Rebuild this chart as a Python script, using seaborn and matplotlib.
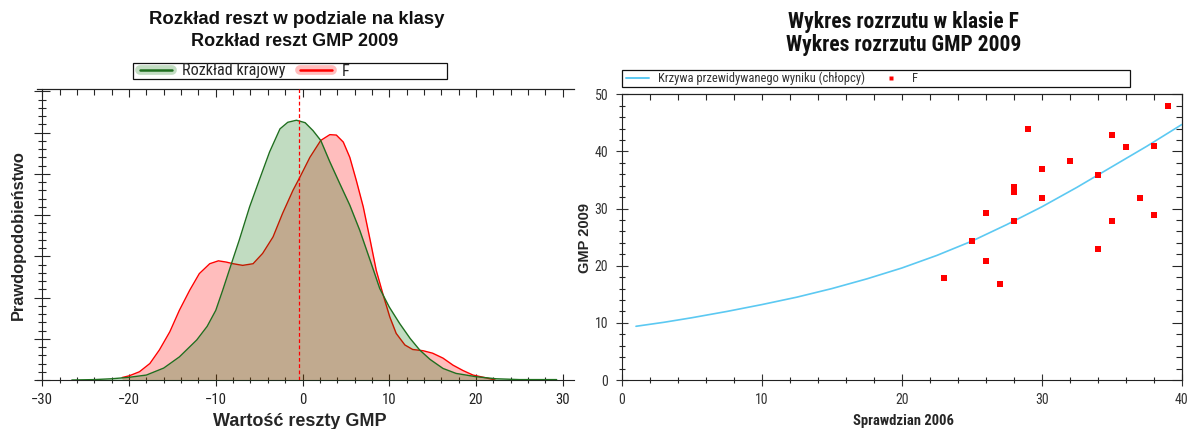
import matplotlib
matplotlib.use("Agg")
import matplotlib.pyplot as plt
import seaborn as sns
import numpy as np
import pandas as pd
from matplotlib.lines import Line2D
from matplotlib.patches import Rectangle
from matplotlib.ticker import MultipleLocator, NullFormatter
import matplotlib.patheffects as pe
from matplotlib import font_manager as fm

# ---------------- data ----------------
# national residual distribution ("Rozkład krajowy")
nat_x = [-26.6, -24.0, -22.0, -20.0, -18.0, -16.0, -14.2, -12.2, -11.0, -10.0,
         -9.2, -8.2, -7.3, -6.1, -5.0, -3.8, -2.6, -1.7, -0.7, 0.3,
         1.2, 2.1, 3.15, 4.3, 5.45, 6.6, 7.8, 8.9, 10.0, 11.2,
         12.4, 13.5, 14.7, 16.2, 17.7, 20.0, 22.3, 25.0, 29.3]
nat_d = [0.0, 0.0001, 0.0003, 0.00065, 0.0012, 0.0029, 0.0056, 0.0097, 0.013, 0.0169,
         0.0218, 0.0282, 0.0339, 0.042, 0.0484, 0.0553, 0.0609, 0.0625, 0.063, 0.0624,
         0.0605, 0.0581, 0.0529, 0.0476, 0.0424, 0.0363, 0.029, 0.0222, 0.0177, 0.0137,
         0.0101, 0.0073, 0.005, 0.0028, 0.0016, 0.0008, 0.0003, 0.0001, 0.0001]

# class F residual distribution
f_x = [-20.8, -20.0, -18.8, -17.6, -16.5, -15.3, -14.2, -13.0, -11.9, -10.7,
       -9.7, -8.8, -8.0, -6.9, -5.7, -4.6, -3.4, -2.3, -1.1, -0.3,
       0.85, 2.1, 3.15, 3.9, 4.7, 5.45, 6.2, 7.0, 7.8, 8.5,
       9.3, 10.06, 10.8, 11.8, 12.7, 13.9, 15.0, 16.2, 17.35, 18.5,
       19.65, 21.2, 22.2]
f_d = [0.0006, 0.001, 0.002, 0.004, 0.0073, 0.0117, 0.0169, 0.0218, 0.0258, 0.0282,
       0.0289, 0.0286, 0.0282, 0.0278, 0.0282, 0.0307, 0.0347, 0.0404, 0.046, 0.0492,
       0.054, 0.0581, 0.0595, 0.0594, 0.0577, 0.054, 0.0484, 0.042, 0.0339, 0.0266,
       0.0206, 0.0153, 0.0113, 0.0085, 0.0074, 0.0071, 0.0065, 0.0053, 0.0036, 0.0023,
       0.0012, 0.0005, 0.0]

mean_resid = -0.4

# predicted-score curve (boys)
curve_x = [1, 3, 5, 7.5, 10, 12.5, 15, 17.5, 20, 22.5, 25, 27.5, 30, 32.5, 35, 37.5, 40]
curve_y = [9.4, 10.1, 10.9, 12.0, 13.2, 14.5, 16.0, 17.7, 19.6, 21.8, 24.3, 27.2, 30.3,
           33.7, 37.3, 40.9, 44.7]

# class F students
spr_2006 = [23, 25, 26, 26, 27, 28, 28, 28, 29, 30, 30, 32, 34, 34, 35, 35, 36, 37, 38, 38, 39]
gmp_2009 = [17.8, 24.3, 29.3, 20.9, 16.8, 33.8, 32.9, 27.8, 43.9, 36.9, 31.9, 38.3, 35.9, 23.0,
            42.9, 27.9, 40.8, 31.9, 40.9, 28.8, 47.9]

# ---------------- fonts ----------------
names = {f.name for f in fm.fontManager.ttflist}
def pick(*cands):
    for c in cands:
        if c in names:
            return c
    return "DejaVu Sans"
SANS = pick("Liberation Sans", "Arial", "DejaVu Sans")
NARROW = pick("Liberation Sans Narrow", "DejaVu Sans Condensed", "Roboto Condensed",
              "Open Sans Condensed", "Liberation Sans")

sns.set_theme(style="ticks")
plt.rcParams["font.family"] = [NARROW, "DejaVu Sans"]
plt.rcParams["axes.linewidth"] = 0.8
plt.rcParams["axes.edgecolor"] = "#222222"

W, H = 1190, 429
fig = plt.figure(figsize=(W / 100, H / 100), dpi=100)

def fx(px):
    return px / W
def fy(py):
    return 1 - py / H

# ---------------- left panel ----------------
L_l, L_r, L_t, L_b = 36.7, 574.0, 89.3, 380.0
axL = fig.add_axes([fx(L_l), fy(L_b), (L_r - L_l) / W, (L_b - L_t) / H])

RED = "#ff0000"
GREEN_LINE = "#1f6f1f"
GREEN_FILL = "#006f00"

axL.fill_between(f_x, f_d, color=RED, alpha=0.26, lw=0, zorder=1)
sns.lineplot(x=f_x, y=f_d, ax=axL, color=RED, lw=1.0, zorder=2, legend=False)
axL.fill_between(nat_x, nat_d, color=GREEN_FILL, alpha=0.245, lw=0, zorder=3)
sns.lineplot(x=nat_x, y=nat_d, ax=axL, color=GREEN_LINE, lw=1.0, zorder=4, legend=False)
axL.axvline(mean_resid, color=RED, lw=0.9, ls=(0, (3, 2)), zorder=5)

axL.set_xlim(-30.65, 31.3)
axL.set_ylim(0, 0.0705)
axL.spines["right"].set_visible(False)
axL.spines["left"].set_position(("data", -30))
axL.xaxis.set_major_locator(MultipleLocator(10))
axL.xaxis.set_minor_locator(MultipleLocator(2))
axL.yaxis.set_major_locator(MultipleLocator(0.01))
axL.yaxis.set_minor_locator(MultipleLocator(0.002))
axL.yaxis.set_major_formatter(NullFormatter())
axL.tick_params(axis="x", which="major", direction="inout", length=8, width=0.8,
                bottom=True, top=False, labelsize=10.5, colors="#222222", pad=5)
axL.tick_params(axis="x", which="minor", direction="inout", length=5, width=0.8,
                bottom=True, top=False)
axL.tick_params(axis="y", which="major", direction="inout", length=11, width=0.8,
                left=True, right=False)
axL.tick_params(axis="y", which="minor", direction="inout", length=6, width=0.8,
                left=True, right=False)
secL = axL.secondary_xaxis("top")
secL.xaxis.set_major_locator(MultipleLocator(10))
secL.xaxis.set_minor_locator(MultipleLocator(2))
secL.xaxis.set_major_formatter(NullFormatter())
secL.tick_params(axis="x", which="major", direction="in", length=6, width=0.8)
secL.tick_params(axis="x", which="minor", direction="in", length=4, width=0.8)

axL.set_xlabel("Wartość reszty GMP", fontsize=13, fontweight="bold", family=[SANS, "DejaVu Sans"])
axL.xaxis.label.set_va("center")
axL.xaxis.set_label_coords((300 - L_l) / (L_r - L_l), -(421 - L_b) / (L_b - L_t))
axL.set_ylabel("Prawdopodobieństwo", fontsize=11.8, fontweight="bold", family=[SANS, "DejaVu Sans"])
axL.yaxis.label.set_va("center")
axL.yaxis.set_label_coords((18 - L_l) / (L_r - L_l), (L_b - 235) / (L_b - L_t))

fig.text(fx(297), fy(20), "Rozkład reszt w podziale na klasy", ha="center", va="center",
         fontsize=13.3, fontweight="bold", family=[SANS, "DejaVu Sans"], color="#111111")
fig.text(fx(295), fy(42), "Rozkład reszt GMP 2009", ha="center", va="center",
         fontsize=13.0, fontweight="bold", family=[SANS, "DejaVu Sans"], color="#111111")

hG = Line2D([], [], color=GREEN_LINE, lw=1.8,
            path_effects=[pe.Stroke(linewidth=7, foreground="#c3ddc3"), pe.Normal()])
hR = Line2D([], [], color=RED, lw=1.8,
            path_effects=[pe.Stroke(linewidth=7, foreground="#ffbdbd"), pe.Normal()])
fig.legend(handles=[hG, hR], labels=["Rozkład krajowy", "F"], loc="center left",
           bbox_to_anchor=(fx(140), fy(71)), ncol=2, frameon=False, fontsize=11.6,
           handlelength=2.0, handletextpad=0.6, columnspacing=0.9,
           borderpad=0, borderaxespad=0)
fig.add_artist(Rectangle((fx(133), fy(79)), (447 - 133) / W, 16 / H, transform=fig.transFigure,
                         fill=False, ec="#111111", lw=0.9))

# ---------------- right panel ----------------
R_l, R_r, R_t, R_b = 622.0, 1181.7, 94.3, 380.0
axR = fig.add_axes([fx(R_l), fy(R_b), (R_r - R_l) / W, (R_b - R_t) / H])
CYAN = "#5cc9f2"
sns.lineplot(x=curve_x, y=curve_y, ax=axR, color=CYAN, lw=1.2, zorder=2, legend=False)
sns.scatterplot(x=spr_2006, y=gmp_2009, ax=axR, marker="s", s=14, color=RED,
                linewidth=0, zorder=3, legend=False)
axR.set_xlim(0, 40)
axR.set_ylim(0, 50)
for ax_ in (axR.xaxis, axR.yaxis):
    ax_.set_major_locator(MultipleLocator(10))
    ax_.set_minor_locator(MultipleLocator(2))
axR.tick_params(axis="both", which="major", direction="inout", length=8, width=0.8,
                labelsize=10, colors="#333333", bottom=True, left=True, top=False, right=False)
axR.tick_params(axis="both", which="minor", direction="inout", length=5, width=0.8,
                bottom=True, left=True, top=False, right=False)
axR.tick_params(axis="x", pad=5)
axR.tick_params(axis="y", pad=6)
secRt = axR.secondary_xaxis("top")
secRt.xaxis.set_major_locator(MultipleLocator(10))
secRt.xaxis.set_minor_locator(MultipleLocator(2))
secRt.xaxis.set_major_formatter(NullFormatter())
secRt.tick_params(axis="x", which="both", direction="in", length=4, width=0.8)
secRr = axR.secondary_yaxis("right")
secRr.yaxis.set_major_locator(MultipleLocator(10))
secRr.yaxis.set_minor_locator(MultipleLocator(2))
secRr.yaxis.set_major_formatter(NullFormatter())
secRr.tick_params(axis="y", which="major", direction="in", length=7, width=0.8)
secRr.tick_params(axis="y", which="minor", direction="in", length=4, width=0.8)

axR.set_xlabel("Sprawdzian 2006", fontsize=10.5, fontweight="bold", family=[NARROW, "DejaVu Sans"])
axR.xaxis.label.set_va("center")
axR.xaxis.set_label_coords((903 - R_l) / (R_r - R_l), -(421 - R_b) / (R_b - R_t))
axR.set_ylabel("GMP 2009", fontsize=10.5, fontweight="bold", family=[SANS, "DejaVu Sans"])
axR.yaxis.label.set_va("center")
axR.yaxis.set_label_coords((585 - R_l) / (R_r - R_l), (R_b - 238) / (R_b - R_t))

fig.text(fx(903), fy(22), "Wykres rozrzutu w klasie F", ha="center", va="center",
         fontsize=15.5, fontweight="bold", family=[NARROW, "DejaVu Sans"], color="#111111")
fig.text(fx(904), fy(45), "Wykres rozrzutu GMP 2009", ha="center", va="center",
         fontsize=15.5, fontweight="bold", family=[NARROW, "DejaVu Sans"], color="#111111")

hC = Line2D([], [], color=CYAN, lw=1.4)
hF = Line2D([], [], ls="none", marker="s", ms=3.2, color=RED, mec="none")
fig.legend(handles=[hC, hF], labels=["Krzywa przewidywanego wyniku (chłopcy)", "F"],
           loc="center left", bbox_to_anchor=(fx(626), fy(78.5)), ncol=2, frameon=False,
           fontsize=9.0, handlelength=1.85, handletextpad=0.75, columnspacing=1.1,
           borderpad=0, borderaxespad=0, labelcolor="#333333")
fig.add_artist(Rectangle((fx(622), fy(87)), (1130 - 622) / W, 17 / H, transform=fig.transFigure,
                         fill=False, ec="#111111", lw=0.9))

fig.savefig("out.png", dpi=100)
